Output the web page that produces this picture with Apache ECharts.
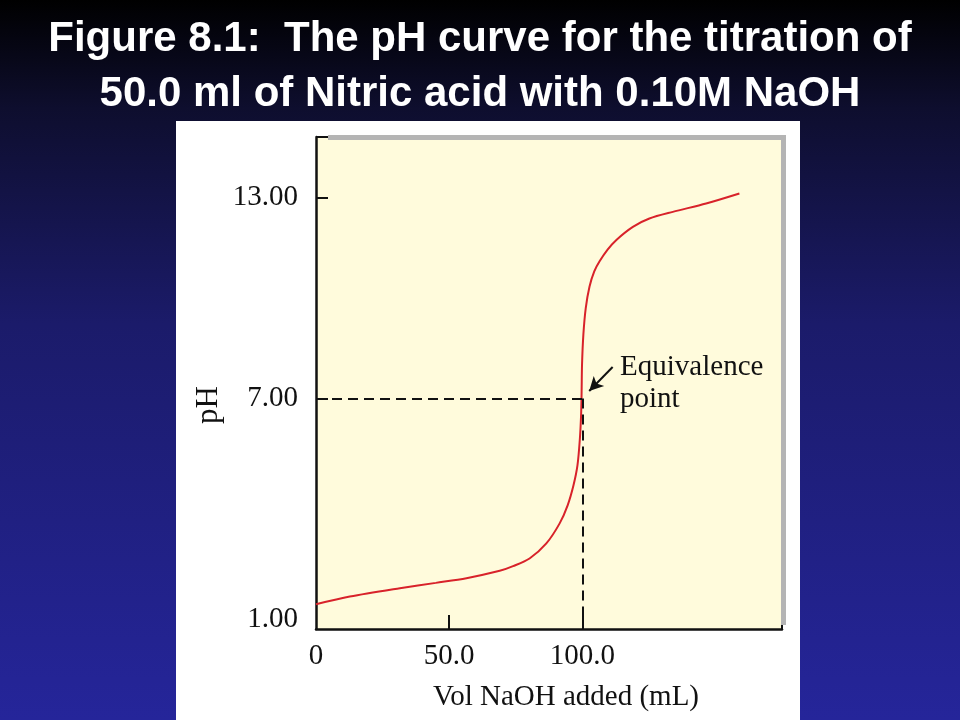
<!DOCTYPE html>
<html>
<head>
<meta charset="utf-8">
<script src="https://cdn.jsdelivr.net/npm/echarts@6/dist/echarts.min.js"></script>
<style>
html,body{margin:0;padding:0;background:#000;}
#chart{width:960px;height:720px;}
</style>
</head>
<body>
<div id="chart"></div>
<script>
// ---- data ----
const volumeML = [0, 12.7, 31.5, 45, 56.5, 69, 74, 80.2, 86.5, 91.5, 94.5, 96.7, 98.2, 99.1, 99.55, 99.75, 99.9, 100.4, 101.3, 102.7, 104.5, 106.5, 109.5, 112.8, 119.0, 125.2, 134.0, 146.5, 159.0];
const pHValues  = [0.84, 1.07, 1.32, 1.48, 1.62, 1.84, 1.98, 2.21, 2.66, 3.26, 3.8, 4.4, 5.0, 5.8, 6.5, 7.2, 8.0, 8.9, 9.7, 10.34, 10.8, 11.1, 11.45, 11.74, 12.13, 12.38, 12.58, 12.83, 13.13];
const xTickLabels = [0, 50, 100];
const yTickLabels = [1, 7, 13];
const equivalence = { volume: 100, pH: 7 };
const titleLines = ['Figure 8.1:  The pH curve for the titration of', '50.0 ml of Nitric acid with 0.10M NaOH'];
const xAxisTitle = 'Vol NaOH added (mL)';
const yAxisTitle = 'pH';
const annotationText = ['Equivalence', 'point'];

const X_MIN = 0, X_MAX = 175, Y_MIN = 0.1, Y_MAX = 14.82;
const serif = "'Liberation Serif','DejaVu Serif',serif";
const FS = 29;

const chart = echarts.init(document.getElementById('chart'));

const curve = volumeML.map((v, i) => [v, pHValues[i]]);

chart.setOption({
  animation: false,
  backgroundColor: {
    type: 'linear', x: 0, y: 0, x2: 0, y2: 1,
    colorStops: [
      { offset: 0, color: '#000000' },
      { offset: 0.15, color: '#0e0e2e' },
      { offset: 0.45, color: '#1b1b6a' },
      { offset: 1, color: '#25259a' }
    ]
  },
  title: {
    text: titleLines.join('\n'),
    left: 'center',
    top: 7,
    textStyle: {
      color: '#ffffff',
      fontFamily: "'Liberation Sans', Arial, sans-serif",
      fontWeight: 'bold',
      fontSize: 42,
      lineHeight: 55
    }
  },
  graphic: [
    { type: 'rect', z: -10, shape: { x: 176, y: 121, width: 624, height: 600 }, style: { fill: '#ffffff' } },
    { type: 'rect', z: 1, shape: { x: 328, y: 135, width: 458, height: 5 }, style: { fill: '#b4b4b4' } },
    { type: 'rect', z: 1, shape: { x: 781, y: 135, width: 5, height: 490 }, style: { fill: '#b4b4b4' } },
    { type: 'text', z: 5, x: 209, y: 405, rotation: Math.PI / 2,
      style: { text: yAxisTitle, font: '31px ' + serif, fill: '#111', align: 'center', verticalAlign: 'middle' } },
    { type: 'text', z: 5, x: 566, y: 697,
      style: { text: xAxisTitle, font: FS + 'px ' + serif, fill: '#111', align: 'center', verticalAlign: 'middle' } }
  ],
  grid: {
    left: 316, top: 137, width: 466, height: 492,
    show: true, backgroundColor: '#fffbdc', borderWidth: 0
  },
  xAxis: {
    type: 'value', min: X_MIN, max: X_MAX,
    splitLine: { show: false },
    axisLine: { lineStyle: { color: '#111', width: 2.5 } },
    axisTick: { inside: true, length: 14, customValues: [50, 100, X_MAX], lineStyle: { color: '#111', width: 2 } },
    axisLabel: {
      customValues: xTickLabels, margin: 13,
      formatter: v => v === 0 ? '0' : v.toFixed(1),
      color: '#111', fontFamily: serif, fontSize: FS
    }
  },
  yAxis: {
    type: 'value', min: Y_MIN, max: Y_MAX,
    splitLine: { show: false },
    axisLine: { lineStyle: { color: '#111', width: 2.5 } },
    axisTick: { inside: true, length: 12, customValues: [7, 13, Y_MAX], lineStyle: { color: '#111', width: 2 } },
    axisLabel: {
      customValues: yTickLabels, margin: 18,
      formatter: v => v === yTickLabels[0] ? '{low|' + v.toFixed(2) + '}' : v.toFixed(2),
      color: '#111', fontFamily: serif, fontSize: FS,
      rich: { low: { color: '#111', fontFamily: serif, fontSize: FS, padding: [40, 0, 0, 0] } }
    }
  },
  series: [
    {
      type: 'line',
      data: curve,
      smooth: 0.3,
      showSymbol: false,
      lineStyle: { color: '#d8222a', width: 2 },
      z: 3,
      markLine: {
        silent: true,
        symbol: 'none',
        lineStyle: { color: '#111', width: 2, type: [10, 6] },
        label: { show: false },
        data: [
          [{ coord: [X_MIN, equivalence.pH] }, { coord: [equivalence.volume, equivalence.pH] }],
          [{ coord: [equivalence.volume, equivalence.pH] }, { coord: [equivalence.volume, Y_MIN] }]
        ]
      },
      markPoint: {
        silent: true,
        symbol: 'circle',
        symbolSize: 1,
        itemStyle: { color: 'rgba(0,0,0,0)' },
        data: [{ coord: [114, 7.45] }],
        label: {
          show: true, position: 'right', distance: 0,
          formatter: annotationText.join('\n'),
          color: '#111', fontFamily: serif, fontSize: FS, lineHeight: 32
        }
      }
    },
    {
      type: 'line',
      data: [],
      markLine: {
        silent: true,
        symbol: ['none', 'arrow'],
        symbolSize: [11, 14],
        lineStyle: { color: '#111', width: 2, type: 'solid' },
        label: { show: false },
        data: [[{ coord: [111.4, 7.94] }, { coord: [102.6, 7.22] }]]
      }
    }
  ]
});
</script>
</body>
</html>
